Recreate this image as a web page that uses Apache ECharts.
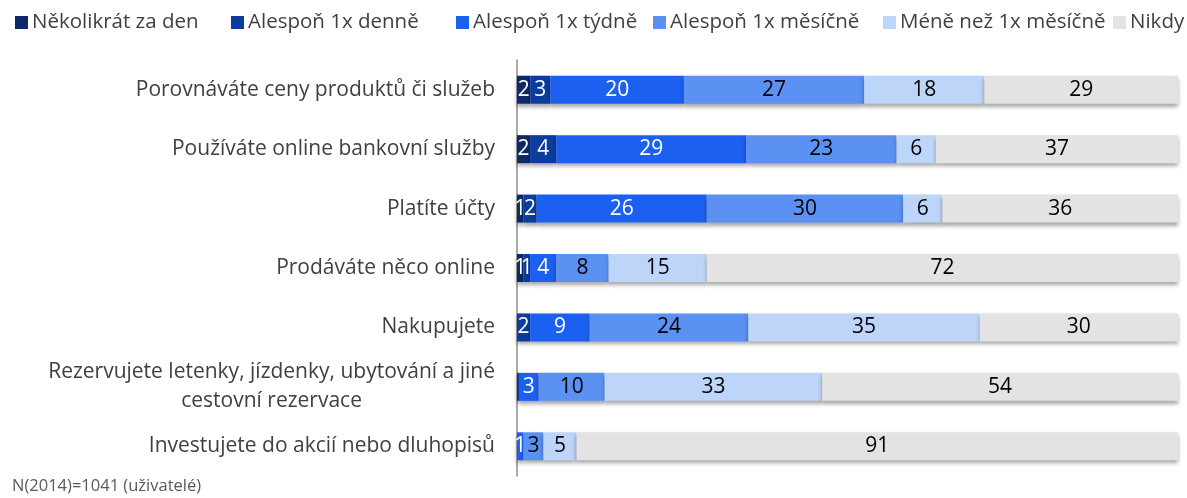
<!DOCTYPE html>
<html>
<head>
<meta charset="utf-8">
<script src="https://cdn.jsdelivr.net/npm/echarts@6/dist/echarts.min.js"></script>
<style>
  html, body { margin: 0; padding: 0; background: #fff; }
  #chart { width: 1187px; height: 498px; }
</style>
</head>
<body>
<div id="chart"></div>
<script>
// kategorie odshora dolů
const categories = [
  'Porovnáváte ceny produktů či služeb',
  'Používáte online bankovní služby',
  'Platíte účty',
  'Prodáváte něco online',
  'Nakupujete',
  'Rezervujete letenky, jízdenky, ubytování a jiné\ncestovní rezervace',
  'Investujete do akcií nebo dluhopisů',
]
const seriesNames = ['Několikrát za den', 'Alespoň 1x denně', 'Alespoň 1x týdně', 'Alespoň 1x měsíčně', 'Méně než 1x měsíčně', 'Nikdy']
const severalDaily = [2, 2, 1, 1, 0, 0, 0]
const daily = [3, 4, 2, 1, 2, 0.3, 0]
const weekly = [20, 29, 26, 4, 9, 3, 1]
const monthly = [27, 23, 30, 8, 24, 10, 3]
const lessMonthly = [18, 6, 6, 15, 35, 33, 5]
const never = [29, 37, 36, 72, 30, 54, 91]
const footnote = 'N(2014)=1041 (uživatelé)'

const colors = ['#0c2a68', '#0b3d9f', '#1c60f2', '#5b91f3', '#bed5fa', '#e3e3e3']
const labelColors = ['#fff', '#fff', '#fff', '#000', '#000', '#000']
const legendLeft = [10, 226, 451, 648, 878, 1108] // rozmístění legendy jako v Excelu
const raw = [severalDaily, daily, weekly, monthly, lessMonthly, never]

// součet řádku -> 100 % (graf je 100% skládaný)
const rowSums = categories.map((c, i) => raw.reduce((s, arr) => s + arr[i], 0))

const myChart = echarts.init(document.getElementById('chart'))
const font = '"Open Sans", "Noto Sans", sans-serif'

const series = raw.map((arr, k) => ({
  name: seriesNames[k],
  type: 'bar',
  stack: 'total',
  barWidth: 28,
  data: arr.map((v, i) => ({ value: v / rowSums[i] * 100, raw: v })),
  itemStyle: {
    color: colors[k],
    shadowColor: 'rgba(0,0,0,0.35)',
    shadowBlur: 4,
    shadowOffsetY: 3,
  },
  label: {
    show: true,
    position: 'inside',
    color: labelColors[k],
    fontFamily: font,
    fontSize: 21,
    formatter: (p) => (p.data.raw >= 0.5 ? String(p.data.raw) : ''),
  },
  emphasis: { disabled: true },
}))

const option = {
  animation: false,
  textStyle: { fontFamily: font },
  legend: seriesNames.map((name, i) => ({
    data: [name],
    left: legendLeft[i],
    top: 7,
    icon: 'rect',
    itemWidth: 13,
    itemHeight: 13,
    itemGap: 0,
    selectedMode: false,
    textStyle: { color: '#404040', fontSize: 20.5, fontFamily: font, padding: [0, 0, 0, -1] },
  })),
  title: {
    text: footnote,
    left: 12,
    top: 478,
    padding: 0,
    textStyle: { color: '#595959', fontSize: 16.5, fontWeight: 'normal', fontFamily: font },
  },
  grid: {
    left: 517,
    right: 9,
    top: 60,
    bottom: 22,
  },
  xAxis: {
    type: 'value',
    min: 0,
    max: 100,
    show: false,
  },
  yAxis: {
    type: 'category',
    inverse: true,
    data: categories,
    axisLine: { show: true, lineStyle: { color: '#8c8c8c', width: 1.5 } },
    axisTick: { show: false },
    axisLabel: {
      margin: 22,
      color: '#404040',
      fontSize: 21,
      fontFamily: font,
      lineHeight: 29,
      formatter: (v) => {
        const parts = v.split('\n')
        if (parts.length === 1) return v
        return '{a|' + parts[0] + '}\n{b|' + parts[1] + '}'
      },
      rich: {
        a: { color: '#404040', fontSize: 21, fontFamily: font, lineHeight: 29 },
        b: { color: '#404040', fontSize: 21, fontFamily: font, lineHeight: 29, align: 'center' },
      },
    },
  },
  series,
}
myChart.setOption(option)
</script>
</body>
</html>
